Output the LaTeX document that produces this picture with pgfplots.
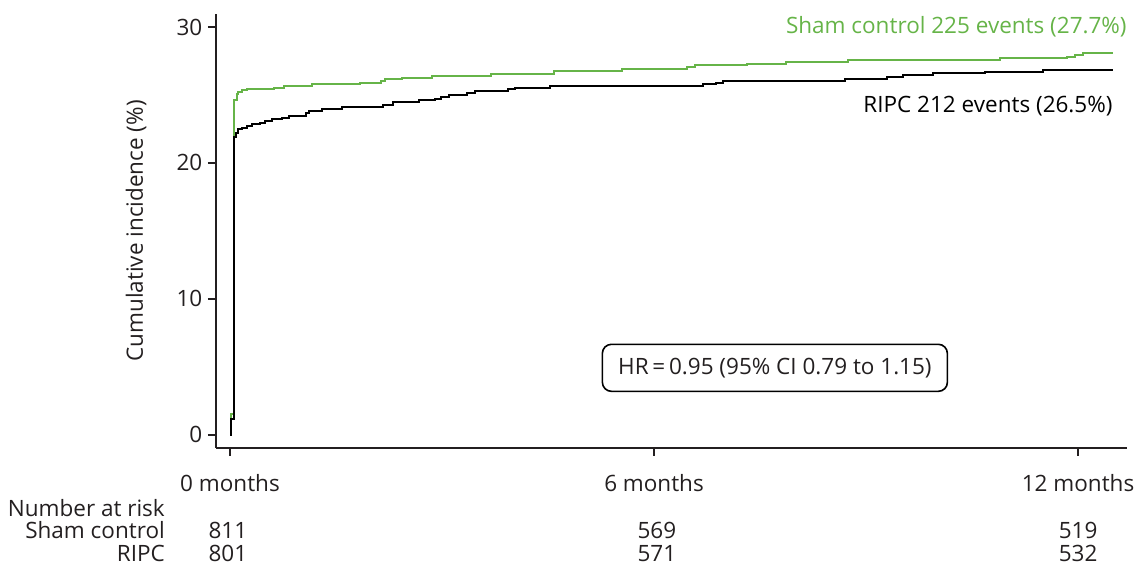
\documentclass[border=0pt]{standalone}
\usepackage{pgfplots}
\pgfplotsset{compat=1.18}
\usepackage{fontspec}
\setmainfont{Open Sans}
\definecolor{shamgreen}{RGB}{102,180,72}
\definecolor{ink}{RGB}{35,31,32}
\begin{document}
\begin{tikzpicture}[font=\fontsize{22.5}{27}\selectfont]
\begin{axis}[
  scale only axis,
  width=911pt, height=434pt,
  xmin=-0.2, xmax=12.69,
  ymin=-0.96, ymax=30.96,
  axis x line=bottom, axis y line=left,
  axis line style={-, line width=2pt, color=ink},
  tick style={line width=1.6pt, color=ink},
  tick align=outside,
  major tick length=8pt,
  xtick={0,6,12},
  xticklabels={0 months,6 months,12 months},
  xticklabel style={yshift=-15pt},
  ytick={0,10,20,30},
  yticklabels={0,10,20,30},
  yticklabel style={xshift=-2pt},
  tick label style={color=ink},
  ylabel={Cumulative incidence (\%)},
  ylabel style={color=ink, at={(axis description cs:-0.0801,0.5)}, anchor=base, rotate=0},
  clip=false,
]
\addplot[const plot, color=shamgreen, line width=2pt] coordinates {
(0,0) (0.02,1.5) (0.05,24.63) (0.094,25.07) (0.12,25.24) (0.17,25.37)
(0.24,25.42) (0.62,25.54) (0.76,25.66) (1.16,25.78) (1.84,25.9)
(2.13,26.05) (2.2,26.15) (2.43,26.27) (2.86,26.42) (3.69,26.55)
(4.58,26.79) (5.54,26.91) (6.46,27.08) (6.58,27.2) (7.31,27.3)
(7.87,27.43) (8.74,27.55) (10.9,27.7) (11.84,27.82) (11.96,27.94)
(12.07,28.11) (12.5,28.11)
};
\addplot[const plot, color=black, line width=2pt] coordinates {
(0,0) (0.02,1.15) (0.05,21.93) (0.085,22.23) (0.12,22.48) (0.17,22.6)
(0.24,22.72) (0.31,22.84) (0.43,22.96) (0.5,23.09) (0.6,23.21)
(0.74,23.28) (0.83,23.46) (1.07,23.7) (1.12,23.82) (1.3,23.97)
(1.59,24.09) (2.16,24.24) (2.3,24.49) (2.67,24.6) (2.9,24.73)
(2.98,24.88) (3.1,25.0) (3.35,25.17) (3.47,25.29) (3.94,25.42)
(4.03,25.54) (4.53,25.69) (6.69,25.78) (6.88,25.9) (6.98,26.03)
(8.7,26.15) (9.29,26.3) (9.52,26.45) (9.95,26.59) (10.68,26.72)
(11.51,26.84) (12.5,26.84)
};
\node[anchor=base east, text=shamgreen, inner sep=0pt] at (axis cs:12.69,29.49) {Sham control 225 events (27.7\%)};
\node[anchor=base east, text=black, inner sep=0pt] at (axis cs:12.49,23.7) {RIPC 212 events (26.5\%)};
\node[draw=black, line width=1.6pt, rounded corners=9pt, minimum width=345pt, minimum height=47pt, inner sep=0pt, text=ink] at (axis cs:7.71,4.93) {HR\,=\,0.95 (95\% CI 0.79 to 1.15)};
\node[anchor=base east, inner sep=0pt, text=ink] at (axis cs:-0.92,-6.03) {Number at risk};
\node[anchor=base east, inner sep=0pt, text=ink] at (axis cs:-0.92,-7.6) {Sham control};
\node[anchor=base east, inner sep=0pt, text=ink] at (axis cs:-0.92,-9.3) {RIPC};
\node[anchor=base, inner sep=0pt, text=ink] at (axis cs:-0.03,-7.6) {811};
\node[anchor=base, inner sep=0pt, text=ink] at (axis cs:6.04,-7.6) {569};
\node[anchor=base, inner sep=0pt, text=ink] at (axis cs:12,-7.6) {519};
\node[anchor=base, inner sep=0pt, text=ink] at (axis cs:-0.03,-9.3) {801};
\node[anchor=base, inner sep=0pt, text=ink] at (axis cs:6.04,-9.3) {571};
\node[anchor=base, inner sep=0pt, text=ink] at (axis cs:12,-9.3) {532};
\coordinate (bbSW) at (axis cs:-3.2546,-9.632);
\coordinate (bbNE) at (axis cs:12.834,31.985);
\end{axis}
\pgfresetboundingbox
\useasboundingbox (bbSW) rectangle (bbNE);
\end{tikzpicture}
\end{document}
